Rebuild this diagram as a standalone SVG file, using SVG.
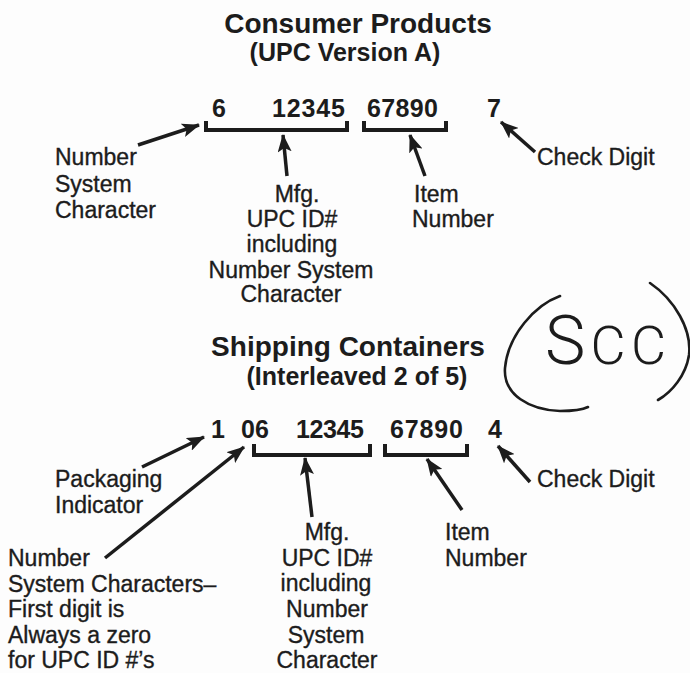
<svg xmlns="http://www.w3.org/2000/svg" width="690" height="673" viewBox="0 0 690 673">
<defs>
<style>
text{font-family:"Liberation Sans",Arial,Helvetica,sans-serif;fill:#1c1c1c}
.title{font-size:28px;font-weight:bold;text-anchor:middle}
.sub{font-size:25px;font-weight:bold;text-anchor:middle}
.num{font-size:25px;font-weight:bold}
.lbl{font-size:23px;stroke:#1c1c1c;stroke-width:0.35}
.mid{text-anchor:middle}
.br{fill:none;stroke:#1c1c1c;stroke-width:4;stroke-linejoin:miter;stroke-linecap:butt}
.ar{fill:none;stroke:#1c1c1c;stroke-width:3.5;marker-end:url(#ah)}
.hand{fill:none;stroke:#1c1c1c;stroke-width:2.6;stroke-linecap:round}
.scc{font-family:Roboto,"Liberation Sans",sans-serif;font-weight:300}
</style>
<marker id="ah" viewBox="0 0 18 14" refX="17" refY="7" markerWidth="18" markerHeight="14" markerUnits="userSpaceOnUse" orient="auto">
<path d="M0,0 L18,7 L0,14 L4,7 Z" fill="#1c1c1c"/>
</marker>
</defs>
<rect width="690" height="673" fill="#fdfdfd"/>

<g id="consumer-title">
<text class="title" x="358" y="33">Consumer Products</text>
<text class="sub" x="345" y="61">(UPC Version A)</text>
</g>

<g id="upc-digits">
<text class="num" x="212" y="117">6</text>
<text class="num" x="272" y="117" textLength="73">12345</text>
<text class="num" x="367" y="117" textLength="71">67890</text>
<text class="num" x="487" y="117">7</text>
</g>

<g id="upc-brackets">
<path class="br" d="M206,121 V130 H347 V121"/>
<path class="br" d="M364,121 V130 H446 V121"/>
</g>

<g id="upc-nsc-label">
<text class="lbl" x="55" y="165">Number</text>
<text class="lbl" x="55" y="192">System</text>
<text class="lbl" x="55" y="218">Character</text>
</g>

<g id="upc-mfg-label">
<text class="lbl mid" x="297" y="202">Mfg.</text>
<text class="lbl mid" x="292" y="227">UPC ID#</text>
<text class="lbl mid" x="292" y="252">including</text>
<text class="lbl mid" x="291" y="278">Number System</text>
<text class="lbl mid" x="291" y="302">Character</text>
</g>

<g id="upc-item-label">
<text class="lbl" x="414" y="202">Item</text>
<text class="lbl" x="412" y="227">Number</text>
</g>

<g id="upc-check-label">
<text class="lbl" x="537" y="165">Check Digit</text>
</g>

<g id="shipping-title">
<text class="title" x="348" y="356">Shipping Containers</text>
<text class="sub" x="357" y="385">(Interleaved 2 of 5)</text>
</g>

<g id="scc-note">
<path class="hand" d="M560,296 C535,305 508,335 505,368 C503,395 530,410 560,411 C572,411 582,410 588,407"/>
<path class="hand" d="M650,283 C675,300 692,330 689,355 C686,375 672,392 658,400"/>
<text class="scc" x="545" y="364" textLength="121"><tspan font-size="68">S</tspan><tspan font-size="54">CC</tspan></text>
</g>

<g id="itf-digits">
<text class="num" x="211" y="438">1</text>
<text class="num" x="241" y="438">06</text>
<text class="num" x="296" y="438" textLength="68">12345</text>
<text class="num" x="390" y="438" textLength="73">67890</text>
<text class="num" x="488" y="438">4</text>
</g>

<g id="itf-brackets">
<path class="br" d="M254,444 V455 H370 V444"/>
<path class="br" d="M385,444 V455 H467 V444"/>
</g>

<g id="itf-pack-label">
<text class="lbl" x="55" y="487">Packaging</text>
<text class="lbl" x="55" y="513">Indicator</text>
</g>

<g id="itf-nsc-label">
<text class="lbl" x="8" y="566">Number</text>
<text class="lbl" x="8" y="592">System Characters–</text>
<text class="lbl" x="8" y="617">First digit is</text>
<text class="lbl" x="8" y="643">Always a zero</text>
<text class="lbl" x="8" y="668">for UPC ID #’s</text>
</g>

<g id="itf-mfg-label">
<text class="lbl mid" x="327" y="540">Mfg.</text>
<text class="lbl mid" x="327" y="566">UPC ID#</text>
<text class="lbl mid" x="326" y="591">including</text>
<text class="lbl mid" x="327" y="617">Number</text>
<text class="lbl mid" x="326" y="643">System</text>
<text class="lbl mid" x="327" y="668">Character</text>
</g>

<g id="itf-item-label">
<text class="lbl" x="445" y="540">Item</text>
<text class="lbl" x="445" y="566">Number</text>
</g>

<g id="itf-check-label">
<text class="lbl" x="537" y="487">Check Digit</text>
</g>

<g id="connectors">
<line class="ar" x1="138" y1="145" x2="199" y2="125"/>
<line class="ar" x1="287" y1="176" x2="283" y2="135"/>
<line class="ar" x1="425" y1="176" x2="410" y2="135"/>
<line class="ar" x1="535" y1="152" x2="501" y2="122"/>
<line class="ar" x1="142" y1="467" x2="204" y2="437"/>
<line class="ar" x1="105" y1="558" x2="244" y2="447"/>
<line class="ar" x1="312" y1="517" x2="305" y2="458"/>
<line class="ar" x1="462" y1="510" x2="427" y2="459"/>
<line class="ar" x1="530" y1="482" x2="498" y2="446"/>
</g>
</svg>
